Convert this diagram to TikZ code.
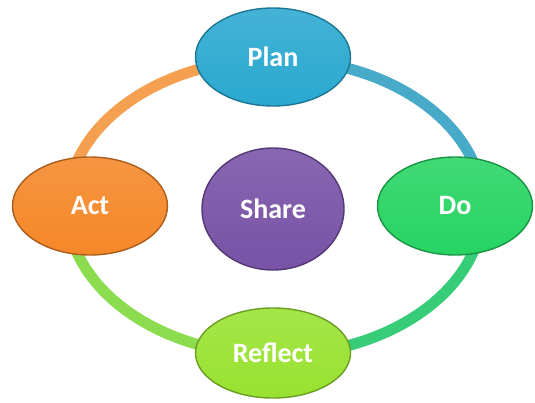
\documentclass[tikz,border=0pt]{standalone}
\usepackage{fontspec}
\setmainfont{Carlito}
\usepackage{tikz}
\usetikzlibrary{shapes.geometric}

\definecolor{planblue}{RGB}{42,168,208}
\definecolor{actorange}{RGB}{245,135,40}
\definecolor{sharepurple}{RGB}{120,82,166}
\definecolor{dogreen}{RGB}{38,212,98}
\definecolor{reflectlime}{RGB}{152,226,48}
\definecolor{ringblue}{RGB}{70,170,200}
\definecolor{ringgreen}{RGB}{55,205,120}
\definecolor{ringlime}{RGB}{140,220,80}
\definecolor{ringorange}{RGB}{245,160,80}

\begin{document}
\begin{tikzpicture}[x=1pt, y=-1pt,
		stage/.style={ellipse, minimum width=155pt, minimum height=98pt, inner sep=0pt,
			top color=#1!88!white, bottom color=#1, draw=#1!70!black, line width=1.4pt,
			text=white, font=\bfseries\fontsize{28}{32}\selectfont},
		ring/.style={line width=11pt, draw=#1}]
		
		\useasboundingbox (0,0) rectangle (535,402);
		
		% ring behind the stages (y axis points down)
		\coordinate (ringtop) at (275,59);
		\coordinate (ringright) at (483,207);
		\coordinate (ringbottom) at (275,355);
		\coordinate (ringleft) at (67,207);
		\draw[ring=ringblue] (ringtop) arc[start angle=270, end angle=360, x radius=208, y radius=148];
		\draw[ring=ringgreen] (ringright) arc[start angle=0, end angle=90, x radius=208, y radius=148];
		\draw[ring=ringlime] (ringbottom) arc[start angle=90, end angle=180, x radius=208, y radius=148];
		\draw[ring=ringorange] (ringleft) arc[start angle=180, end angle=270, x radius=208, y radius=148];
		
		\node[stage=planblue] (plan) at (273,57) {Plan};
		\node[stage=actorange] (act) at (90,206) {Act};
		\node[stage=dogreen] (do) at (455,206) {Do};
		\node[stage=reflectlime, minimum height=90pt] (reflect) at (273,353) {Reflect};
		\node[stage=sharepurple, minimum width=142pt, minimum height=122pt] (share) at (273,209) {Share};
		\end{tikzpicture}
\end{document}
